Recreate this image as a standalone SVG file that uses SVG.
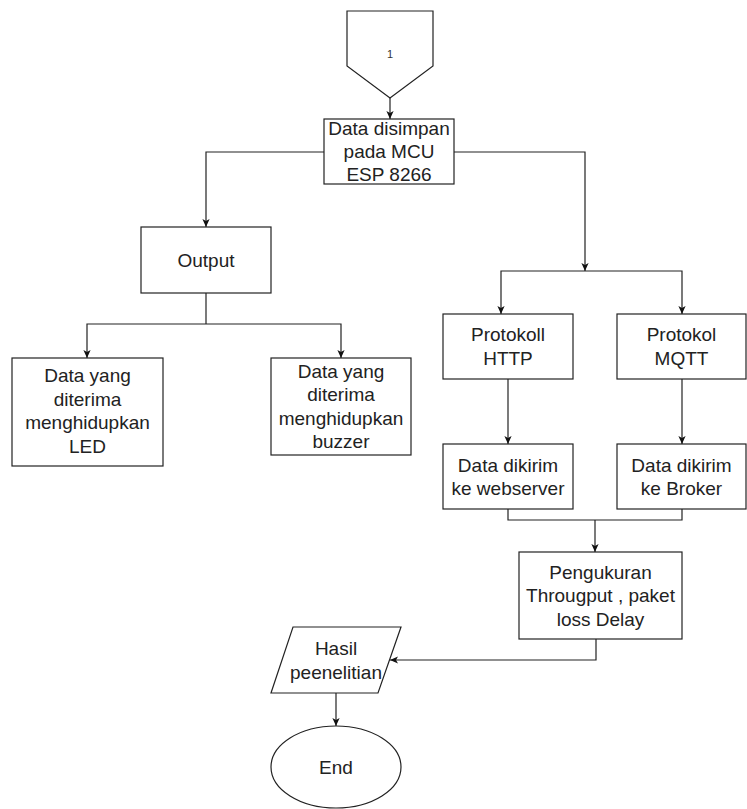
<svg xmlns="http://www.w3.org/2000/svg" width="747" height="809" viewBox="0 0 747 809">
<defs>
<marker id="arr" viewBox="0 0 10 10" refX="10" refY="5" markerWidth="8" markerHeight="8" markerUnits="userSpaceOnUse" orient="auto">
<path d="M0,0.5 L10,5 L0,9.5 L2.5,5 z" fill="#111"/>
</marker>
<style>
.box{fill:#fff;stroke:#222;stroke-width:1.2}
.ln{fill:none;stroke:#222;stroke-width:1.2}
.ar{fill:none;stroke:#222;stroke-width:1.2;marker-end:url(#arr)}
.t{font-family:"Liberation Sans",Arial,sans-serif;font-size:19px;fill:#222;text-anchor:middle}
.s{font-family:"Liberation Sans",Arial,sans-serif;font-size:11px;fill:#333;text-anchor:middle}
</style>
</defs>
<rect width="747" height="809" fill="#fff"/>
<g id="connectors">
<path class="ar" d="M390,98 V119"/>
<path class="ar" d="M324,152 H206 V227"/>
<path class="ar" d="M454,152 H585 V271"/>
<path class="ar" d="M585,271 H501 V314"/>
<path class="ar" d="M585,271 H682 V314"/>
<path class="ln" d="M206,293 V324"/>
<path class="ar" d="M206,324 H87 V358"/>
<path class="ar" d="M206,324 H341 V358"/>
<path class="ar" d="M508,379 V444"/>
<path class="ar" d="M682,379 V444"/>
<path class="ln" d="M508,509 V520 H682 V509"/>
<path class="ar" d="M595,520 V552"/>
<path class="ar" d="M596,639 V660 H390"/>
<path class="ar" d="M336,693 V726"/>
</g>
<g id="n-offpage">
<polygon class="box" points="347,11 433,11 433,66 390,98 347,66"/>
<text class="s" x="390" y="58">1</text>
</g>
<g id="n-mcu">
<rect class="box" x="324" y="119" width="130" height="65"/>
<text class="t"><tspan x="389" y="134.5">Data disimpan</tspan><tspan x="389" y="157.5">pada MCU</tspan><tspan x="389" y="180.5">ESP 8266</tspan></text>
</g>
<g id="n-output">
<rect class="box" x="141" y="227" width="130" height="66"/>
<text class="t" x="206" y="266.5">Output</text>
</g>
<g id="n-led">
<rect class="box" x="12" y="358" width="151" height="108"/>
<text class="t"><tspan x="87.5" y="382">Data yang</tspan><tspan x="87.5" y="405.5">diterima</tspan><tspan x="87.5" y="429">menghidupkan</tspan><tspan x="87.5" y="452.5">LED</tspan></text>
</g>
<g id="n-buzzer">
<rect class="box" x="271" y="358" width="140" height="97"/>
<text class="t"><tspan x="341" y="377.5">Data yang</tspan><tspan x="341" y="401">diterima</tspan><tspan x="341" y="424.5">menghidupkan</tspan><tspan x="341" y="448">buzzer</tspan></text>
</g>
<g id="n-http">
<rect class="box" x="443" y="314" width="130" height="65"/>
<text class="t"><tspan x="508" y="341">Protokoll</tspan><tspan x="508" y="364.5">HTTP</tspan></text>
</g>
<g id="n-mqtt">
<rect class="box" x="617" y="314" width="129" height="65"/>
<text class="t"><tspan x="681.5" y="341">Protokol</tspan><tspan x="681.5" y="364.5">MQTT</tspan></text>
</g>
<g id="n-web">
<rect class="box" x="443" y="444" width="130" height="65"/>
<text class="t"><tspan x="508" y="471.5">Data dikirim</tspan><tspan x="508" y="495">ke webserver</tspan></text>
</g>
<g id="n-broker">
<rect class="box" x="617" y="444" width="129" height="65"/>
<text class="t"><tspan x="681.5" y="471.5">Data dikirim</tspan><tspan x="681.5" y="495">ke Broker</tspan></text>
</g>
<g id="n-ukur">
<rect class="box" x="519" y="552" width="163" height="87"/>
<text class="t"><tspan x="600.5" y="578.5">Pengukuran</tspan><tspan x="600.5" y="602">Througput , paket</tspan><tspan x="600.5" y="625.5">loss Delay</tspan></text>
</g>
<g id="n-hasil">
<polygon class="box" points="293,627 401,627 378,693 271,693"/>
<text class="t"><tspan x="336" y="655">Hasil</tspan><tspan x="336" y="678.5">peenelitian</tspan></text>
</g>
<g id="n-end">
<ellipse class="box" cx="336" cy="767" rx="65" ry="41"/>
<text class="t" x="336" y="774">End</text>
</g>
</svg>
